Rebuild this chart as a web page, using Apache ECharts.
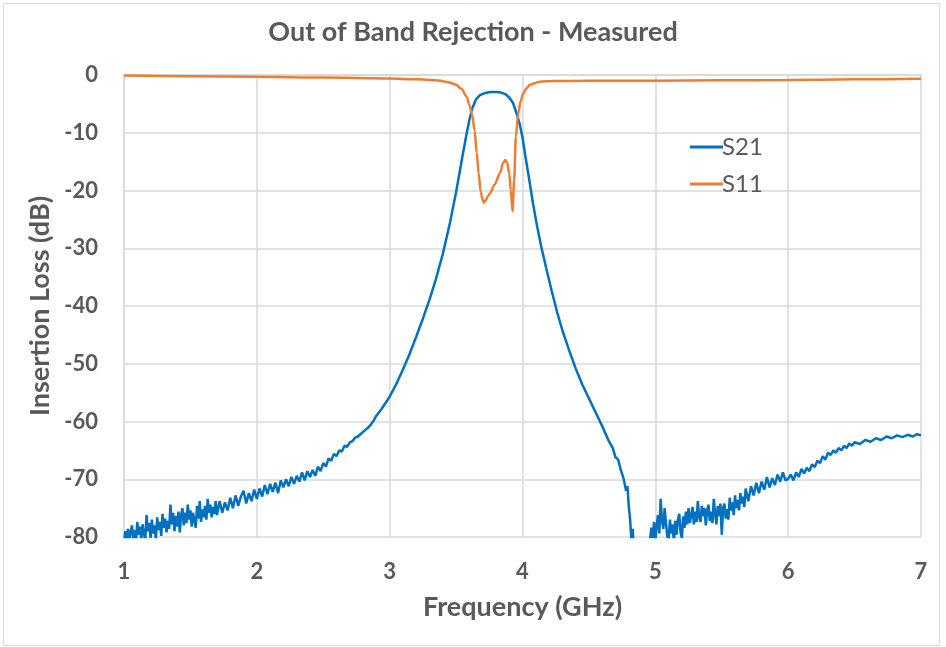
<!DOCTYPE html>
<html>
<head>
<meta charset="utf-8">
<script src="https://cdn.jsdelivr.net/npm/echarts@6/dist/echarts.min.js"></script>
<style>
  html, body { margin: 0; padding: 0; background: #fff; }
  #chart { width: 946px; height: 647px; }
</style>
</head>
<body>
<div id="chart"></div>
<script>
// x ticks and y ticks (GHz, dB)
const xTicks = [1, 2, 3, 4, 5, 6, 7];
const yTicks = [0, -10, -20, -30, -40, -50, -60, -70, -80];

// S21 measured, [GHz, dB] (noisy floor kept as read)
const s21Low = [
  [1.00, -81], [1.01, -79.0], [1.02, -80.6], [1.03, -78.6], [1.04, -80.5], [1.05, -79.2],
  [1.06, -78.0], [1.07, -80.4], [1.08, -78.8], [1.09, -80.8], [1.10, -77.4], [1.11, -79.6],
  [1.12, -78.2], [1.13, -80.4], [1.14, -77.8], [1.15, -79.4], [1.16, -80.6], [1.17, -76.2],
  [1.18, -79.0], [1.19, -77.6], [1.20, -80.2], [1.21, -77.0], [1.22, -79.4], [1.23, -78.0],
  [1.24, -80.4], [1.25, -76.6], [1.26, -78.8], [1.27, -77.4], [1.28, -79.8], [1.29, -76.0],
  [1.30, -78.4], [1.31, -76.8], [1.32, -79.2], [1.33, -77.2], [1.34, -78.6], [1.35, -74.4],
  [1.36, -77.8], [1.37, -75.8], [1.38, -79.0], [1.39, -76.4], [1.40, -78.2], [1.41, -75.6],
  [1.42, -79.2], [1.43, -76.2], [1.44, -75.0], [1.45, -78.0], [1.46, -75.8], [1.47, -77.6],
  [1.48, -74.4], [1.49, -77.0], [1.50, -75.4], [1.51, -78.2], [1.52, -75.8], [1.53, -77.2],
  [1.54, -78.4], [1.55, -74.6], [1.56, -76.8], [1.57, -73.8], [1.58, -77.4], [1.59, -75.2],
  [1.60, -76.6], [1.61, -74.6], [1.62, -77.0], [1.63, -73.4], [1.64, -75.8], [1.65, -74.4],
  [1.66, -76.6], [1.67, -74.8], [1.68, -76.0], [1.69, -73.8], [1.70, -76.2],
  [1.72, -73.8], [1.74, -75.8], [1.76, -74.0], [1.78, -75.4], [1.80, -73.2], [1.82, -75.0],
  [1.84, -72.8], [1.86, -74.6], [1.88, -73.0], [1.90, -72.0], [1.92, -74.2], [1.94, -72.4],
  [1.96, -73.8], [1.98, -71.8], [2.00, -73.4], [2.02, -71.6], [2.04, -73.0], [2.06, -71.0],
  [2.08, -72.6], [2.10, -70.8], [2.12, -72.2], [2.14, -70.6], [2.16, -72.4], [2.18, -70.2],
  [2.20, -71.4], [2.22, -70.0], [2.24, -71.2], [2.26, -69.6], [2.28, -70.8], [2.30, -69.4],
  [2.32, -70.4], [2.34, -68.8], [2.36, -70.2], [2.38, -68.6], [2.40, -69.6], [2.42, -68.4],
  [2.44, -69.4], [2.46, -67.8], [2.48, -68.6], [2.50, -67.2], [2.52, -67.8], [2.54, -66.4],
  [2.56, -66.8], [2.58, -65.6], [2.60, -66.0], [2.62, -65.0], [2.64, -65.2], [2.66, -64.2],
  [2.68, -64.4], [2.70, -63.6], [2.72, -63.4], [2.74, -62.8], [2.76, -62.6], [2.78, -62.2],
  [2.80, -61.8], [2.82, -61.4], [2.84, -61.0], [2.86, -60.5], [2.88, -59.8], [2.90, -59.0],
  [2.92, -58.4], [2.94, -57.8], [2.96, -57.1], [2.98, -56.4]
];
const s21Band = [
  [3.00, -55.7], [3.05, -53.5], [3.10, -51.0], [3.15, -48.3], [3.20, -45.3], [3.25, -42.2],
  [3.30, -38.9], [3.35, -35.2], [3.40, -31.0], [3.45, -26.0], [3.50, -20.3], [3.55, -13.8],
  [3.58, -10.1], [3.60, -7.8], [3.62, -5.9], [3.65, -4.2], [3.68, -3.5], [3.72, -3.1],
  [3.76, -2.95], [3.80, -2.95], [3.84, -3.05], [3.87, -3.3], [3.90, -3.9], [3.93, -4.9],
  [3.96, -7.0], [3.98, -8.6], [4.00, -10.8], [4.02, -13.8], [4.05, -18.0], [4.08, -22.4],
  [4.11, -26.2], [4.14, -29.6], [4.18, -33.6], [4.22, -37.4], [4.26, -41.0], [4.30, -44.2],
  [4.35, -47.6], [4.40, -50.8], [4.45, -53.6], [4.50, -56.0], [4.55, -58.4], [4.60, -60.8],
  [4.65, -63.4], [4.68, -64.6], [4.70, -66.2], [4.72, -66.6], [4.74, -68.4], [4.76, -69.8],
  [4.78, -72.0], [4.79, -71.2], [4.80, -74.6], [4.81, -77.0], [4.82, -80.5], [4.83, -78.6],
  [4.84, -84], [4.86, -88], [4.90, -90], [4.94, -88]
];
const s21High = [
  [4.96, -80.5], [4.97, -78.4], [4.98, -80.2], [4.99, -77.4], [5.00, -80.8], [5.01, -78.0],
  [5.02, -76.2], [5.03, -79.4], [5.04, -73.4], [5.05, -77.2], [5.06, -78.6], [5.07, -75.0],
  [5.08, -77.6], [5.09, -79.8], [5.10, -80.6], [5.11, -77.0], [5.12, -79.4], [5.13, -77.8],
  [5.14, -81], [5.15, -77.2], [5.16, -79.6], [5.17, -77.0], [5.18, -76.0], [5.19, -79.2],
  [5.20, -80.2], [5.21, -76.4], [5.22, -78.4], [5.23, -75.6], [5.24, -77.8], [5.25, -75.0],
  [5.26, -77.6], [5.27, -76.2], [5.28, -74.8], [5.29, -77.8], [5.30, -75.6], [5.31, -77.4],
  [5.32, -73.8], [5.33, -76.6], [5.34, -77.4], [5.35, -74.6], [5.36, -76.4], [5.37, -75.0],
  [5.38, -78.0], [5.39, -75.4], [5.40, -74.4], [5.41, -77.2], [5.42, -75.6], [5.43, -77.6],
  [5.44, -73.4], [5.45, -76.0], [5.46, -77.8], [5.47, -74.6], [5.48, -76.4], [5.49, -74.2],
  [5.50, -79.6], [5.51, -75.0], [5.52, -74.2], [5.53, -76.8], [5.54, -75.2], [5.55, -77.0],
  [5.56, -73.2], [5.57, -75.4], [5.58, -74.0], [5.59, -76.2], [5.60, -72.8], [5.61, -75.0],
  [5.62, -73.6], [5.63, -75.4], [5.64, -72.4], [5.65, -74.2], [5.66, -73.0], [5.67, -74.8],
  [5.68, -71.6], [5.70, -73.8], [5.72, -71.2], [5.74, -72.8], [5.76, -70.6], [5.78, -72.4],
  [5.80, -70.4], [5.82, -71.8], [5.84, -69.6], [5.86, -71.4], [5.88, -69.8], [5.90, -71.0],
  [5.92, -69.2], [5.94, -70.4], [5.96, -68.8], [5.98, -70.2], [6.00, -69.9], [6.02, -69.2],
  [6.04, -70.2], [6.06, -68.8], [6.08, -69.6], [6.10, -68.2], [6.12, -69.0], [6.14, -68.0],
  [6.16, -68.6], [6.18, -67.4], [6.20, -67.9], [6.22, -66.8], [6.24, -67.2], [6.26, -66.0],
  [6.28, -66.6], [6.30, -65.4], [6.32, -65.8], [6.34, -65.0], [6.36, -65.4], [6.38, -64.6],
  [6.40, -65.0], [6.42, -64.2], [6.44, -64.6], [6.46, -63.8], [6.48, -64.2], [6.50, -63.6],
  [6.54, -63.9], [6.58, -63.2], [6.62, -63.5], [6.66, -62.9], [6.70, -63.2], [6.74, -62.6],
  [6.78, -62.9], [6.82, -62.4], [6.86, -62.7], [6.90, -62.3], [6.94, -62.6], [6.97, -62.2],
  [7.00, -62.4]
];
const s21 = s21Low.concat(s21Band, s21High);

// S11 measured, [GHz, dB]
const s11 = [
  [1.0, -0.1], [1.5, -0.2], [2.0, -0.3], [2.5, -0.45], [3.0, -0.6], [3.2, -0.75],
  [3.3, -0.85], [3.38, -1.0], [3.45, -1.3], [3.50, -1.7], [3.54, -2.4], [3.58, -3.75],
  [3.60, -5.2], [3.62, -6.8], [3.64, -9.6], [3.655, -13.5], [3.67, -17.0], [3.685, -20.2],
  [3.70, -21.6], [3.71, -22.1], [3.725, -21.6], [3.74, -21.0], [3.755, -20.5], [3.79, -19.0],
  [3.83, -17.0], [3.855, -15.2], [3.87, -14.7], [3.885, -15.2], [3.90, -17.0], [3.912, -20.0],
  [3.925, -23.6], [3.937, -18.2], [3.95, -10.7], [3.968, -6.6], [3.985, -4.6], [4.005, -3.2],
  [4.03, -2.3], [4.056, -1.7], [4.13, -1.15], [4.23, -1.04], [4.5, -1.0], [5.0, -0.98],
  [5.5, -0.92], [6.0, -0.87], [6.5, -0.75], [7.0, -0.64]
];

const txt = '#595959';
const font = 'Lato, "Open Sans", sans-serif';

const chart = echarts.init(document.getElementById('chart'), null, { renderer: 'canvas' });

chart.setOption({
  backgroundColor: '#fff',
  animation: false,
  title: {
    text: 'Out of Band Rejection - Measured',
    left: 'center',
    top: 14,
    textStyle: { color: txt, fontSize: 27, fontWeight: 'bold', fontFamily: font }
  },
  graphic: [{
    type: 'rect',
    shape: { x: 3.5, y: 3.5, width: 936, height: 642 },
    style: { fill: 'none', stroke: '#d9d9d9', lineWidth: 1 },
    silent: true
  }],
  legend: {
    orient: 'vertical',
    left: 685,
    top: 128,
    itemWidth: 33,
    itemHeight: 3,
    itemGap: 9,
    icon: 'rect',
    textStyle: { color: txt, fontSize: 24, fontFamily: font, lineHeight: 28, padding: [0, 0, 0, -6] },
    data: ['S21', 'S11']
  },
  grid: { left: 124, right: 25, top: 75, bottom: 110, containLabel: false },
  xAxis: {
    type: 'value',
    min: xTicks[0],
    max: xTicks[xTicks.length - 1],
    interval: 1,
    name: 'Frequency (GHz)',
    nameLocation: 'middle',
    nameGap: 57,
    nameTextStyle: { color: txt, fontSize: 27, fontWeight: 'bold', fontFamily: font },
    axisLine: { show: true, lineStyle: { color: '#d9d9d9', width: 1.5 } },
    axisTick: { show: false },
    axisLabel: { color: txt, fontSize: 22, fontWeight: 'bold', fontFamily: font, margin: 24 },
    splitLine: { show: true, lineStyle: { color: '#d9d9d9', width: 1.5 } }
  },
  yAxis: {
    type: 'value',
    min: yTicks[yTicks.length - 1],
    max: yTicks[0],
    interval: 10,
    name: 'Insertion Loss (dB)',
    nameLocation: 'middle',
    nameGap: 65,
    nameTextStyle: { color: txt, fontSize: 27, fontWeight: 'bold', fontFamily: font },
    axisLine: { show: true, lineStyle: { color: '#d9d9d9', width: 1.5 } },
    axisTick: { show: false },
    axisLabel: { color: txt, fontSize: 22, fontWeight: 'bold', fontFamily: font, margin: 26 },
    splitLine: { show: true, lineStyle: { color: '#d9d9d9', width: 1.5 } }
  },
  series: [
    {
      name: 'S21',
      type: 'line',
      data: s21,
      showSymbol: false,
      clip: true,
      color: '#0070c0',
      lineStyle: { width: 2.5, color: '#0070c0' }
    },
    {
      name: 'S11',
      type: 'line',
      data: s11,
      showSymbol: false,
      clip: true,
      smooth: 0.3,
      smoothMonotone: 'x',
      color: '#ed7d31',
      lineStyle: { width: 2.5, color: '#ed7d31' }
    }
  ]
});
</script>
</body>
</html>
